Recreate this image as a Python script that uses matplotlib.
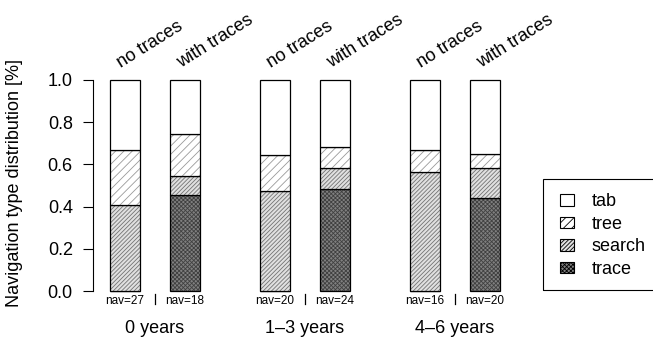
import numpy as np
import matplotlib
matplotlib.use('Agg')
import matplotlib.pyplot as plt
from matplotlib.patches import Patch, Rectangle

plt.rcParams['font.family'] = ['Liberation Sans', 'DejaVu Sans']
plt.rcParams['hatch.linewidth'] = 0.6

# data (fractions, stacked bottom -> top)
groups = ['0 years', '1\u20133 years', '4\u20136 years']
conditions = ['no traces', 'with traces']
nav = [27, 18, 20, 24, 16, 20]
trace = [0.0, 0.457, 0.0, 0.483, 0.0, 0.441]
search = [0.408, 0.086, 0.474, 0.100, 0.564, 0.142]
tree = [0.260, 0.200, 0.171, 0.099, 0.104, 0.066]
tab = [1 - a - b - c for a, b, c in zip(trace, search, tree)]

positions = [1, 3, 6, 8, 11, 13]
width = 1.0

styles = {
    'trace': dict(color='0.5', hatch='xxxxxxxx', hcol='0.25'),
    'search': dict(color='0.88', hatch='////////', hcol='0.45'),
    'tree': dict(color='white', hatch='////', hcol='0.6'),
    'tab': dict(color='white', hatch=None, hcol='black'),
}
layers = [('trace', trace), ('search', search), ('tree', tree), ('tab', tab)]

fig = plt.figure(figsize=(6.53, 3.39), dpi=100)
ax = fig.add_axes([93 / 653, 48 / 339, 437 / 653, 211 / 339])

bottom = np.zeros(len(positions))
for name, vals in layers:
    st = styles[name]
    ax.bar(positions, vals, width, bottom=bottom, color=st['color'],
           hatch=st['hatch'], edgecolor=st['hcol'], linewidth=0, clip_on=False)
    ax.bar(positions, vals, width, bottom=bottom, fill=False,
           edgecolor='black', linewidth=0.9, clip_on=False)
    bottom += np.array(vals)

ax.set_xlim(-0.067, 14.5)
ax.set_ylim(0, 1)
for s in ['top', 'right', 'bottom']:
    ax.spines[s].set_visible(False)
ax.spines['left'].set_bounds(0, 1)
ax.spines['left'].set_linewidth(0.8)
ax.set_xticks([])
ax.set_yticks(np.arange(0, 1.01, 0.2))
ax.set_yticklabels(['%.1f' % v for v in np.arange(0, 1.01, 0.2)])
ax.tick_params(axis='y', direction='out', length=7.5, width=0.8, pad=7, labelsize=13)

# condition labels on top
for i, p in enumerate(positions):
    ax.text(p - 0.12, 1.055, conditions[i % 2], rotation=32, rotation_mode='anchor',
            ha='left', va='baseline', fontsize=13, clip_on=False)

# nav counts and separators
for i, p in enumerate(positions):
    ax.text(p, -0.047, 'nav=%d' % nav[i], ha='center', va='center', fontsize=8.5)
for g in range(len(groups)):
    mid = (positions[2 * g] + positions[2 * g + 1]) / 2
    ax.plot([mid, mid], [-0.015, -0.062], color='black', lw=0.9, clip_on=False)
    ax.text(mid, -0.18, groups[g], ha='center', va='center', fontsize=13)

fig.text(15 / 653, 1 - 183 / 339, 'Navigation type distribution [%]', rotation=90,
         ha='center', va='center', fontsize=13)

# legend box
fig.patches.append(Rectangle((543 / 653, 1 - 290 / 339), 0.2, 111 / 339,
                             transform=fig.transFigure, fill=False,
                             edgecolor='black', linewidth=0.8))
handles = []
for name, _ in layers[::-1]:
    st = styles[name]
    handles.append(Patch(facecolor=st['color'], hatch=st['hatch'], edgecolor='black',
                         linewidth=0.8, label=name))
fig.legend(handles=handles, loc='center left',
           bbox_to_anchor=(560 / 653, 1 - 235.5 / 339), frameon=False,
           fontsize=13, handlelength=0.75, handleheight=0.6, handletextpad=1.0,
           labelspacing=0.3, borderpad=0, borderaxespad=0)

fig.savefig('out.png', dpi=100)
